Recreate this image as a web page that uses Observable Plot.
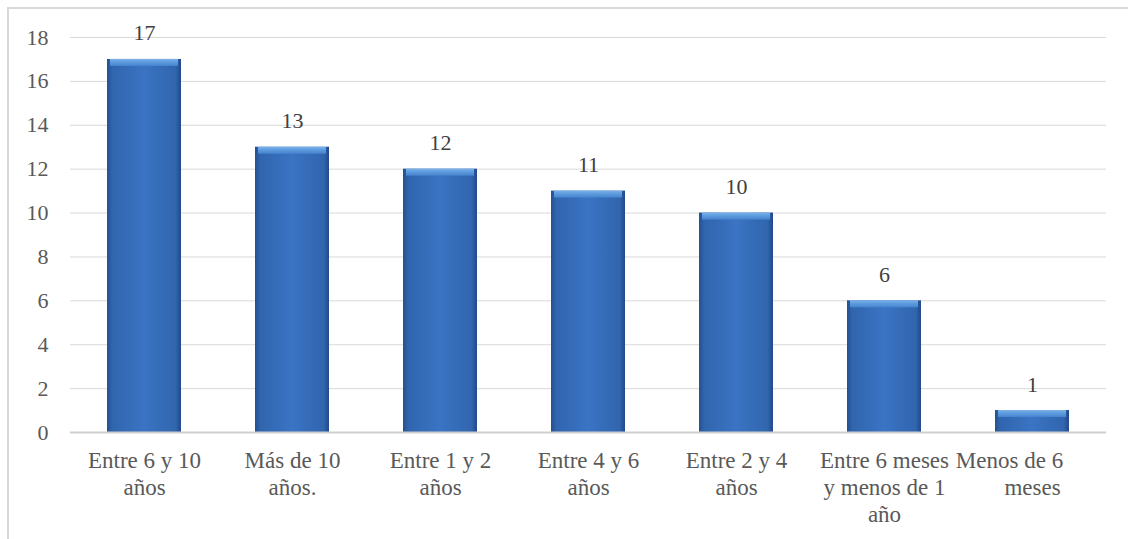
<!DOCTYPE html>
<html>
<head>
<meta charset="utf-8">
<script src="https://cdn.jsdelivr.net/npm/d3@7"></script>
<script src="https://cdn.jsdelivr.net/npm/@observablehq/plot@0.6"></script>
<style>
  html, body { margin: 0; padding: 0; background: #fff; }
  #wrap { position: relative; width: 1128px; height: 539px; overflow: hidden; }
  #border { position: absolute; left: 7px; top: 7px; width: 1200px; height: 600px;
            border-top: 2px solid #d9d9d9; border-left: 2px solid #d9d9d9; box-sizing: border-box; }
  #chart { position: absolute; left: 0; top: 0; }
  #chart svg, #chart svg text { font-family: "Liberation Serif", "Times New Roman", serif !important; }
</style>
</head>
<body>
<div id="wrap"><div id="border"></div><div id="chart"></div></div>
<script>
const categories = [
  "Entre 6 y 10\naños",
  "Más de 10\naños.",
  "Entre 1 y 2\naños",
  "Entre 4 y 6\naños",
  "Entre 2 y 4\naños",
  "Entre 6 meses\ny menos de 1\naño",
  "Menos de 6\u00a0\u00a0\u00a0\u00a0\u00a0\u00a0\u00a0\u00a0\nmeses"
];
const values = [17, 13, 12, 11, 10, 6, 1];
const yTicks = [0, 2, 4, 6, 8, 10, 12, 14, 16, 18];

const data = categories.map((c, i) => ({category: c, value: values[i]}));

const defs = () => {
  const ns = "http://www.w3.org/2000/svg";
  const d = document.createElementNS(ns, "defs");
  d.innerHTML = `
    <linearGradient id="barGrad" x1="0" x2="1" y1="0" y2="0">
      <stop offset="0" stop-color="#24508f"/>
      <stop offset="0.07" stop-color="#3165ae"/>
      <stop offset="0.5" stop-color="#3a74c3"/>
      <stop offset="0.93" stop-color="#3165ae"/>
      <stop offset="1" stop-color="#20498a"/>
    </linearGradient>
    <linearGradient id="capGrad" x1="0" x2="0" y1="0" y2="1">
      <stop offset="0" stop-color="#7db3e8"/>
      <stop offset="0.35" stop-color="#62a0e0"/>
      <stop offset="1" stop-color="#4683cf"/>
    </linearGradient>`;
  return d;
};

const FONT = "'Liberation Serif', 'Times New Roman', serif";

const plot = Plot.plot({
  width: 1128,
  height: 539,
  marginLeft: 70,
  marginRight: 22,
  marginTop: 37,
  marginBottom: 107,
  style: {fontFamily: FONT, fontSize: "22px", color: "#595959", background: "transparent"},
  x: {domain: categories, paddingInner: 0.5, paddingOuter: 0.25, label: null},
  y: {domain: [0, 18], ticks: yTicks, label: null},
  marks: [
    defs,
    Plot.gridY(yTicks, {stroke: "#d9d9d9", strokeOpacity: 1, strokeWidth: 1}),
    Plot.axisY({ticks: yTicks, tickSize: 0, tickPadding: 22, label: null, fill: "#595959", fontSize: 22, fontFamily: FONT}),
    Plot.axisX({tickSize: 0, tickPadding: 17, label: null, fill: "#595959", fontSize: 23, fontFamily: FONT, lineHeight: 1.16}),
    Plot.barY(data, {x: "category", y: "value", fill: "url(#barGrad)"}),
    Plot.barY(data, {x: "category", y1: "value", y2: "value", insetBottom: -7, insetLeft: 3, insetRight: 3, fill: "url(#capGrad)"}),
    Plot.ruleY([0], {stroke: "#d0d0d0", strokeWidth: 2}),
    Plot.text(data, {x: "category", y: "value", text: d => String(d.value), dy: -26, fill: "#404040", fontSize: 22, fontFamily: FONT})
  ]
});
document.getElementById("chart").appendChild(plot);
</script>
</body>
</html>
